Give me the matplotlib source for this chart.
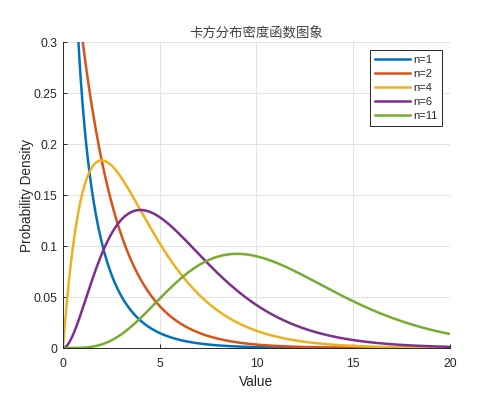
import math
import numpy as np
import matplotlib
matplotlib.use('Agg')
import matplotlib.pyplot as plt
from matplotlib.ticker import FuncFormatter

# degrees of freedom shown in the chart
dofs = [1, 2, 4, 6, 11]
labels = ['n=1', 'n=2', 'n=4', 'n=6', 'n=11']
colors = ['#0072BD', '#D95319', '#EDB120', '#7E2F8E', '#77AC30']
xticks = [0, 5, 10, 15, 20]
yticks = [0, 0.05, 0.1, 0.15, 0.2, 0.25, 0.3]

def chi2pdf(x, k):
    '''chi-square density with k degrees of freedom'''
    with np.errstate(divide='ignore', invalid='ignore'):
        y = x**(k/2 - 1)*np.exp(-x/2)/(2**(k/2)*math.gamma(k/2))
    return y

plt.rcParams['font.family'] = ['Liberation Sans', 'DejaVu Sans']
txt = '#262626'

fig = plt.figure(figsize=(4.78, 3.99), dpi=100)
ax = fig.add_axes([0.1318, 0.1278, 0.8096, 0.7669])

x = np.linspace(0, 20, 4001)
for k, lab, c in zip(dofs, labels, colors):
    y = chi2pdf(x, k)
    y = np.where(np.isfinite(y), y, 10.0)
    ax.plot(x, y, color=c, lw=1.8, label=lab)

ax.set_xlim(0, 20)
ax.set_ylim(0, 0.3)
ax.set_xticks(xticks)
ax.set_yticks(yticks)
ax.yaxis.set_major_formatter(FuncFormatter(lambda v, p: '%g' % v))
ax.grid(True, color='#e3e3e3', lw=0.7)
ax.set_axisbelow(True)
for s in ['top', 'right']:
    ax.spines[s].set_visible(False)
for s in ['left', 'bottom']:
    ax.spines[s].set_color(txt)
    ax.spines[s].set_linewidth(0.7)
ax.tick_params(direction='in', length=3, width=0.7, colors=txt, labelsize=8.8)
ax.tick_params(axis='x', pad=7)
ax.tick_params(axis='y', pad=4)

ax.set_xlabel('Value', fontsize=9.8, color=txt, labelpad=4)
ax.set_ylabel('Probability Density', fontsize=9.8, color=txt, labelpad=-0.5)
ax.set_title('卡方分布密度函数图象', fontsize=9.6, color='#404040',
             family=['Noto Sans CJK SC', 'DejaVu Sans'], pad=3)

leg = ax.legend(loc='upper right', fontsize=8, frameon=True, fancybox=False,
                framealpha=1, edgecolor='#262626', handlelength=3.1,
                borderaxespad=0.7, labelspacing=0.36, handletextpad=0.3,
                borderpad=0.45)
leg.get_frame().set_linewidth(0.7)
for t in leg.get_texts():
    t.set_color(txt)

fig.savefig('out.png', dpi=100)
